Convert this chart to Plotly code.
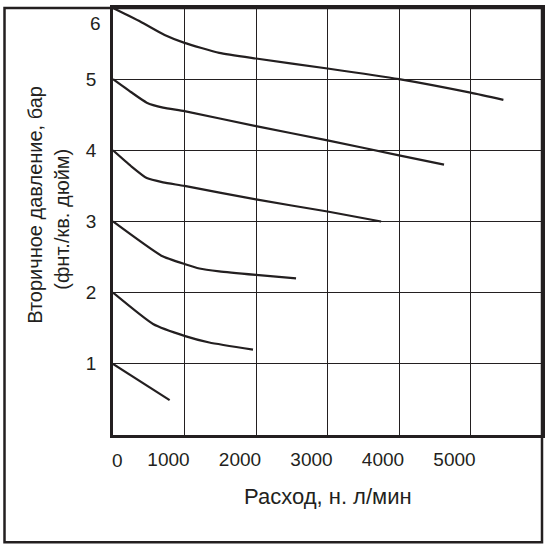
import plotly.graph_objects as go

# flow, н. л/мин  and secondary pressure, бар  (one curve per set pressure)
flow_6 = [0, 380, 722, 1000, 1486, 2000, 3000, 4000, 5000, 5460]
pres_6 = [6.0, 5.81, 5.62, 5.51, 5.37, 5.29, 5.15, 5.00, 4.81, 4.71]

flow_5 = [0, 250, 472, 700, 1000, 2000, 3000, 4000, 4630]
pres_5 = [5.0, 4.82, 4.67, 4.60, 4.55, 4.34, 4.14, 3.93, 3.80]

flow_4 = [0, 250, 472, 700, 1000, 2000, 3000, 3750]
pres_4 = [4.0, 3.78, 3.61, 3.55, 3.50, 3.31, 3.14, 3.00]

flow_3 = [0, 676, 1010, 1208, 1486, 2000, 2560]
pres_3 = [3.0, 2.52, 2.40, 2.34, 2.30, 2.25, 2.20]

flow_2 = [0, 560, 1010, 1347, 1958]
pres_2 = [2.0, 1.56, 1.39, 1.30, 1.20]

flow_1 = [0, 792]
pres_1 = [1.0, 0.49]

x_ticks = [1000, 2000, 3000, 4000, 5000]
y_ticks = [1, 2, 3, 4, 5]
x_title = "Расход, н. л/мин"
y_title = ["Вторичное давление, бар", "(фнт./кв. дюйм)"]

ink = "#231f20"
font = "Liberation Sans, Arial, sans-serif"

fig = go.Figure()
for fx, py in [(flow_6, pres_6), (flow_5, pres_5), (flow_4, pres_4),
               (flow_3, pres_3), (flow_2, pres_2), (flow_1, pres_1)]:
    fig.add_trace(go.Scatter(x=fx, y=py, mode="lines",
                             line=dict(color=ink, width=2.2, shape="spline", smoothing=0.5),
                             showlegend=False, hoverinfo="skip"))

fig.update_xaxes(range=[0, 6000], tickvals=x_ticks, showgrid=True, gridcolor=ink, gridwidth=1,
                 showline=True, linecolor=ink, linewidth=2.5, mirror=True, zeroline=False,
                 ticks="", ticklabelstandoff=5, ticklabelshift=-16,
                 tickfont=dict(family=font, size=19, color=ink))
fig.update_yaxes(range=[0, 6], tickvals=y_ticks, showgrid=True, gridcolor=ink, gridwidth=1,
                 showline=True, linecolor=ink, linewidth=2.5, mirror=True, zeroline=False,
                 ticks="", ticklabelstandoff=10,
                 tickfont=dict(family=font, size=19, color=ink))

# outer frame
fig.add_shape(type="rect", xref="paper", yref="paper", x0=-0.2529, x1=1.0, y0=-0.2512, y1=1.0,
              line=dict(color=ink, width=2.5))

# end labels that sit off their grid lines in the original
fig.add_annotation(text="6", xref="paper", yref="y", x=0, y=6, xanchor="right", yanchor="middle",
                   xshift=-10, yshift=-15, showarrow=False, font=dict(family=font, size=19, color=ink))
fig.add_annotation(text="0", xref="x", yref="paper", x=0, y=0, xanchor="center", yanchor="middle",
                   xshift=4, yshift=-25, showarrow=False, font=dict(family=font, size=19, color=ink))

fig.add_annotation(text=x_title, xref="paper", yref="paper", x=0.5, y=-0.144, xanchor="center",
                   yanchor="middle", showarrow=False, font=dict(family=font, size=22, color=ink))
fig.add_annotation(text=y_title[0], xref="paper", yref="paper", x=-0.181, y=0.54, textangle=-90,
                   xanchor="center", yanchor="middle", showarrow=False,
                   font=dict(family=font, size=20, color=ink))
fig.add_annotation(text=y_title[1], xref="paper", yref="paper", x=-0.118, y=0.505, textangle=-90,
                   xanchor="center", yanchor="middle", showarrow=False,
                   font=dict(family=font, size=20, color=ink))

fig.update_layout(width=550, height=548, margin=dict(l=113, r=6, t=5, b=113),
                  plot_bgcolor="white", paper_bgcolor="white")

fig.write_html("out.html", config={"displayModeBar": False},
               post_script="document.body.style.margin='0';")
